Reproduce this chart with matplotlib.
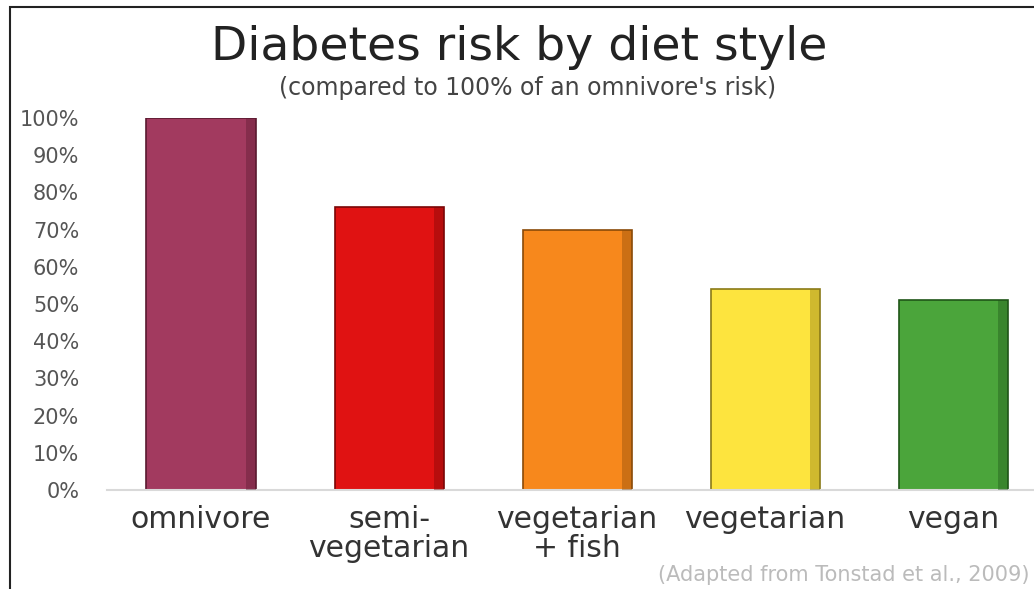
import numpy as np
import matplotlib.pyplot as plt
from matplotlib.patches import Rectangle

# diet styles and relative diabetes risk (omnivore = 100%)
diets = ['omnivore', 'semi-\nvegetarian', 'vegetarian\n+ fish', 'vegetarian', 'vegan']
risk = [100, 76, 70, 54, 51]
barColors = ['#a23a5f', '#e01212', '#f7881c', '#fde43e', '#4ba53b']
edgeColors = ['#5a1a30', '#7a0606', '#8a4a08', '#8a7a18', '#1f5518']
yTicks = [0, 10, 20, 30, 40, 50, 60, 70, 80, 90, 100]

plt.rcParams['font.family'] = ['DejaVu Sans']

fig = plt.figure(figsize=(10.34, 5.89), dpi=100)
ax = fig.add_axes([107 / 1034, 1 - 490 / 589, 1 - 107 / 1034, (490 - 118) / 589])

X = np.arange(len(diets))
w = 0.58
ax.bar(X, risk, width=w, color=barColors, edgecolor=edgeColors, linewidth=1.2, zorder=2)
# darker right side to mimic the bevel
ax.bar(X + w / 2 - 0.025, risk, width=0.05, color=edgeColors, alpha=0.4, linewidth=0, zorder=3)

ax.set_xlim(-0.5, 4.43)
ax.set_ylim(0, 100)
ax.set_yticks(yTicks)
ax.set_yticklabels([f'{t}%' for t in yTicks], fontsize=15, color='#555555')
ax.set_xticks(X)
ax.set_xticklabels(diets, fontsize=21.5, color='#333333', linespacing=1.0)
ax.tick_params(axis='y', length=0, pad=20)
ax.tick_params(axis='x', length=0, pad=11)
for s in ['top', 'right', 'left']:
    ax.spines[s].set_visible(False)
ax.spines['bottom'].set_color('#d9d9d9')
ax.spines['bottom'].set_linewidth(1.5)

fig.text(0.502, 1 - 47 / 589, 'Diabetes risk by diet style', ha='center', va='center',
         fontsize=34, color='#222222')
fig.text(0.51, 1 - 88 / 589, "(compared to 100% of an omnivore's risk)", ha='center',
         va='center', fontsize=17, color='#444444')
fig.text(0.996, 1 - 575 / 589, '(Adapted from Tonstad et al., 2009)', ha='right',
         va='center', fontsize=15, color='#bbbbbb')

# frame around the slide
fig.patches.append(Rectangle((10 / 1034, -0.05), 1.2, 1 - 7 / 589 + 0.05,
                             transform=fig.transFigure, fill=False,
                             edgecolor='#222222', linewidth=1.5))

fig.savefig('out.png', dpi=100)
